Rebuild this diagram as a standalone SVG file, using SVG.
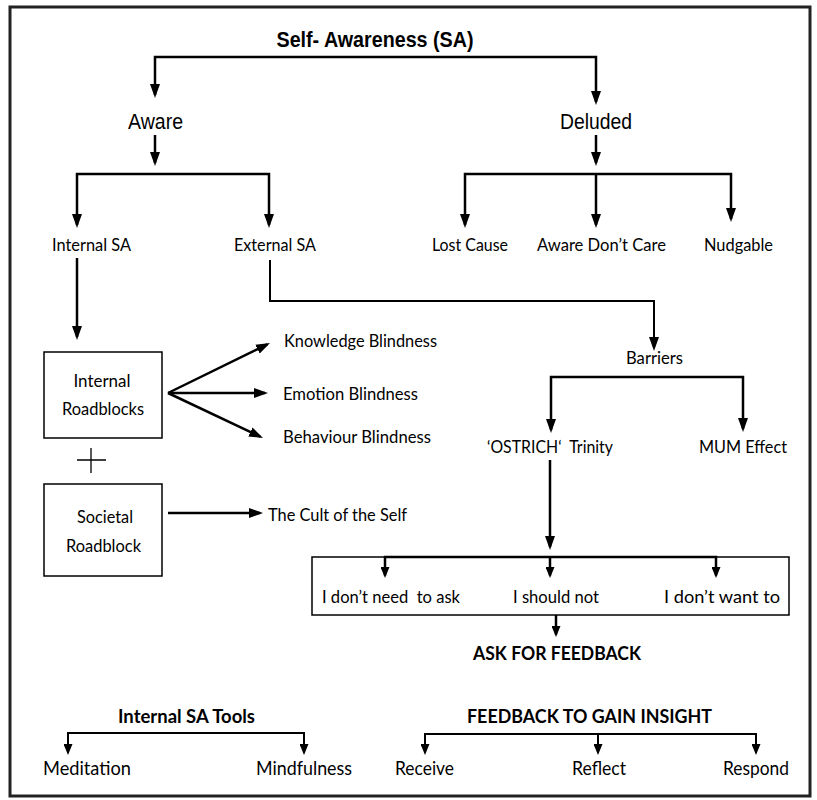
<svg xmlns="http://www.w3.org/2000/svg" width="817" height="800" viewBox="0 0 817 800">
<style>
.ar{font-family:"Liberation Sans",Arial,sans-serif;fill:#000}
.cb{font-family:Lato,"Open Sans",sans-serif;fill:#000}
.b{font-weight:700}
.m{text-anchor:middle}
.box{fill:none;stroke:#000;stroke-width:1.5}
.c{fill:none;stroke:#000;stroke-width:2.5}
.cs{fill:none;stroke:#000;stroke-width:2}
.big{marker-end:url(#ah)}
.sm{marker-end:url(#as)}
</style>
<defs>
<marker id="ah" viewBox="0 0 14 10" refX="11" refY="5" markerWidth="14" markerHeight="10" markerUnits="userSpaceOnUse" orient="auto-start-reverse"><path d="M0,0 L14,5 L0,10 z" fill="#000"/></marker>
<marker id="as" viewBox="0 0 11 9" refX="8.5" refY="4.5" markerWidth="11" markerHeight="9" markerUnits="userSpaceOnUse" orient="auto-start-reverse"><path d="M0,0 L11,4.5 L0,9 z" fill="#000"/></marker>
</defs>
<rect x="0" y="0" width="817" height="800" fill="#fff"/>
<rect x="10" y="7" width="800" height="789" fill="none" stroke="#222" stroke-width="3"/>

<g id="connectors">
<path class="c" d="M155,95 V57 H596 V102" marker-start="url(#ah)" marker-end="url(#ah)"/>
<path class="c big" d="M155,135 V163"/>
<path class="c big" d="M596,135 V163"/>
<path class="c" d="M77,225 V174 H269 V225" marker-start="url(#ah)" marker-end="url(#ah)"/>
<path class="c" d="M465,225 V174 H731 V219" marker-start="url(#ah)" marker-end="url(#ah)"/>
<path class="c big" d="M596,174 V225"/>
<path class="c big" d="M77,258 V337"/>
<path class="cs" d="M270,260 V301 H654 V348" marker-end="url(#ah)"/>
<path class="c big" d="M168,393 L267.3,344.3"/>
<path class="c big" d="M168,393 L265,393"/>
<path class="c big" d="M168,393 L260.3,436.7"/>
<path class="c" d="M551,430 V377 H743 V429" marker-start="url(#ah)" marker-end="url(#ah)"/>
<path class="c big" d="M550,460 V547"/>
<path class="c" d="M385,575.5 V557 H716 V575.5" marker-start="url(#as)" marker-end="url(#as)"/>
<path class="c sm" d="M550,557 V575.5"/>
<path class="c sm" d="M556,615 V634.5"/>
<path class="c big" d="M168,513 H260"/>
<path class="cs" d="M68,752.5 V733 H304 V752.5" marker-start="url(#as)" marker-end="url(#as)"/>
<path class="cs" d="M425,752.5 V734 H756 V752.5" marker-start="url(#as)" marker-end="url(#as)"/>
<path class="cs sm" d="M598,734 V752.5"/>
</g>

<g id="title"><text class="ar b m" x="375" y="47" font-size="22" textLength="197" lengthAdjust="spacingAndGlyphs">Self- Awareness (SA)</text></g>
<g id="aware"><text class="ar m" x="155.5" y="129" font-size="22" textLength="55" lengthAdjust="spacingAndGlyphs">Aware</text></g>
<g id="deluded"><text class="ar m" x="596" y="129" font-size="22" textLength="72" lengthAdjust="spacingAndGlyphs">Deluded</text></g>
<g id="internal-sa"><text class="cb m" x="91.5" y="251" font-size="17" textLength="79" lengthAdjust="spacingAndGlyphs">Internal SA</text></g>
<g id="external-sa"><text class="cb m" x="275" y="251" font-size="17" textLength="82" lengthAdjust="spacingAndGlyphs">External SA</text></g>
<g id="lost-cause"><text class="cb m" x="470" y="251" font-size="17" textLength="76" lengthAdjust="spacingAndGlyphs">Lost Cause</text></g>
<g id="aware-dont-care"><text class="cb m" x="601.5" y="251" font-size="17" textLength="129" lengthAdjust="spacingAndGlyphs">Aware Don’t Care</text></g>
<g id="nudgable"><text class="cb m" x="738.5" y="251" font-size="17" textLength="69" lengthAdjust="spacingAndGlyphs">Nudgable</text></g>

<g id="internal-roadblocks">
<rect class="box" x="44" y="352" width="118" height="86"/>
<text class="cb m" x="102" y="387" font-size="17" textLength="57" lengthAdjust="spacingAndGlyphs">Internal</text>
<text class="cb m" x="103" y="415" font-size="17" textLength="82" lengthAdjust="spacingAndGlyphs">Roadblocks</text>
</g>
<g id="plus"><path d="M77,460 H106 M91,448 V473" stroke="#000" stroke-width="1.3" fill="none"/></g>
<g id="knowledge-blindness"><text class="cb" x="284" y="347" font-size="17" textLength="153" lengthAdjust="spacingAndGlyphs">Knowledge Blindness</text></g>
<g id="emotion-blindness"><text class="cb" x="283" y="400" font-size="17" textLength="135" lengthAdjust="spacingAndGlyphs">Emotion Blindness</text></g>
<g id="behaviour-blindness"><text class="cb" x="283" y="443" font-size="17" textLength="148" lengthAdjust="spacingAndGlyphs">Behaviour Blindness</text></g>

<g id="barriers"><text class="cb m" x="654.5" y="364" font-size="17" textLength="57" lengthAdjust="spacingAndGlyphs">Barriers</text></g>
<g id="ostrich"><text class="cb m" x="550" y="453" font-size="17" textLength="126" lengthAdjust="spacingAndGlyphs" xml:space="preserve">‘OSTRICH‘  Trinity</text></g>
<g id="mum-effect"><text class="cb m" x="743" y="453" font-size="17" textLength="88" lengthAdjust="spacingAndGlyphs">MUM Effect</text></g>

<g id="societal-roadblock">
<rect class="box" x="44" y="484" width="118" height="92"/>
<text class="cb m" x="105" y="523" font-size="17" textLength="56" lengthAdjust="spacingAndGlyphs">Societal</text>
<text class="cb m" x="103.5" y="552" font-size="17" textLength="75" lengthAdjust="spacingAndGlyphs">Roadblock</text>
</g>
<g id="cult-of-self"><text class="cb" x="268" y="521" font-size="17" textLength="139" lengthAdjust="spacingAndGlyphs">The Cult of the Self</text></g>

<g id="reasons">
<rect class="box" x="312" y="557" width="477" height="58"/>
<text class="cb m" x="391" y="603" font-size="18" textLength="138" lengthAdjust="spacingAndGlyphs" xml:space="preserve">I don’t need  to ask</text>
<text class="cb m" x="556" y="603" font-size="18" textLength="86" lengthAdjust="spacingAndGlyphs">I should not</text>
<text class="cb m" x="722" y="603" font-size="18" textLength="116" lengthAdjust="spacingAndGlyphs">I don’t want to</text>
</g>
<g id="ask-for-feedback"><text class="cb b m" x="557" y="660" font-size="18" textLength="168" lengthAdjust="spacingAndGlyphs">ASK FOR FEEDBACK</text></g>

<g id="internal-sa-tools"><text class="cb b m" x="186.5" y="723" font-size="18" textLength="137" lengthAdjust="spacingAndGlyphs">Internal SA Tools</text></g>
<g id="meditation"><text class="cb m" x="87" y="775" font-size="19" textLength="88" lengthAdjust="spacingAndGlyphs">Meditation</text></g>
<g id="mindfulness"><text class="cb m" x="304" y="775" font-size="19" textLength="96" lengthAdjust="spacingAndGlyphs">Mindfulness</text></g>
<g id="feedback-insight"><text class="cb b m" x="589.5" y="723" font-size="18" textLength="245" lengthAdjust="spacingAndGlyphs">FEEDBACK TO GAIN INSIGHT</text></g>
<g id="receive"><text class="cb m" x="424.5" y="775" font-size="19" textLength="59" lengthAdjust="spacingAndGlyphs">Receive</text></g>
<g id="reflect"><text class="cb m" x="599" y="775" font-size="19" textLength="54" lengthAdjust="spacingAndGlyphs">Reflect</text></g>
<g id="respond"><text class="cb m" x="756" y="775" font-size="19" textLength="66" lengthAdjust="spacingAndGlyphs">Respond</text></g>
</svg>
